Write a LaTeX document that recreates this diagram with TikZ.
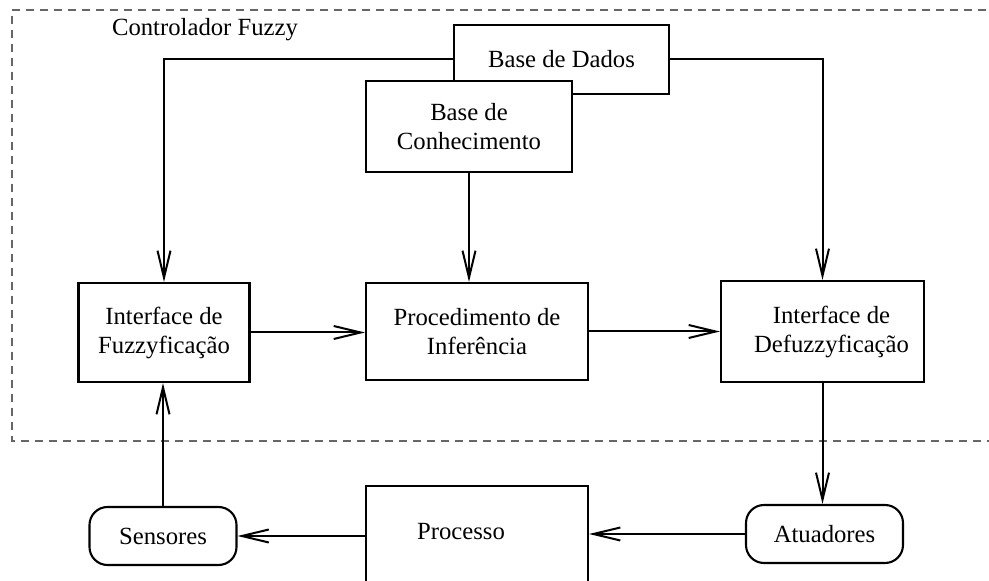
\documentclass[tikz,border=0pt]{standalone}
\usepackage{fontspec}
\setmainfont{Liberation Serif}
\usetikzlibrary{arrows.meta}
\begin{document}
\begin{tikzpicture}[x=0.5pt,y=-0.5pt,
  every node/.style={font=\fontsize{12.35}{14.5}\selectfont},
  boxnode/.style={draw,line width=1.05pt,fill=white,inner sep=0pt,align=center},
  roundnode/.style={boxnode,rounded corners=9pt},
  conn/.style={line width=1pt,-{Straight Barb[length=13.5pt,width=6.5pt,line width=1pt]}},
  framedash/.style={draw=black!60,line width=0.6pt,dash pattern=on 4pt off 3pt}]
\useasboundingbox (0,0) rectangle (989,581);
\clip (0,0) rectangle (989,581);
\fill[white] (0,0) rectangle (989,581);
% dashed frame
\coordinate (frTR) at (1000,10);
\coordinate (frTL) at (12,10);
\coordinate (frBL) at (12,441);
\coordinate (frBR) at (1000,441);
\draw[framedash] (frTR) -- (frTL) -- (frBL) -- (frBR);
\node[anchor=base west] (ctl) at (105,36) {Controlador Fuzzy};
% boxes
\node[boxnode,minimum width=107.5pt,minimum height=34.5pt] (dados) at (561.5,59.5) {Base de Dados};
\node[boxnode,minimum width=103pt,minimum height=45.5pt] (conh) at (469,126.5) {Base de\\Conhecimento};
\node[boxnode,minimum width=85.5pt,minimum height=49.5pt] (fuzz) at (164,332.5) {Interface de\\Fuzzyficação};
\node[boxnode,minimum width=111pt,minimum height=48.5pt] (infer) at (477,331.5) {Procedimento de\\Inferência};
\node[boxnode,minimum width=101.5pt,minimum height=50.5pt] (defuzz) at (822.5,331.5) {\hspace*{9pt}Interface de\\\hspace*{9pt}Defuzzyficação};
\node[roundnode,minimum width=73.5pt,minimum height=29pt] (sens) at (163,536) {Sensores};
\node[roundnode,minimum width=78.5pt,minimum height=29pt] (atu) at (824.5,534) {Atuadores};
\node[boxnode,minimum width=111pt,minimum height=77pt] (proc) at (477,563) {};
\node[anchor=base] (proctxt) at (461,539) {Processo};
% connectors
\draw[conn] (dados.west) -| (fuzz.north);
\draw[conn] (dados.east) -| (defuzz.north);
\draw[conn] (conh.south) -- (conh.south |- infer.north);
\draw[conn] (fuzz.east) -- (fuzz.east -| infer.west);
\draw[conn] (infer.east) -- (infer.east -| defuzz.west);
\draw[conn] (defuzz.south) -- (defuzz.south |- atu.north);
\draw[conn] (atu.west) -- (atu.west -| proc.east);
\draw[conn] (sens.east -| proc.west) -- (sens.east);
\draw[conn] (sens.north) -- (sens.north |- fuzz.south);
\end{tikzpicture}
\end{document}
